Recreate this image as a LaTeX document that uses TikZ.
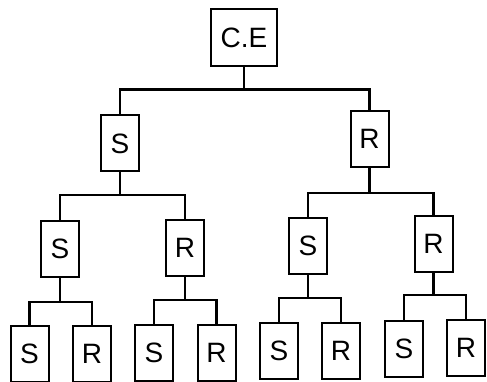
\documentclass[tikz,border=0pt]{standalone}
\usepackage{fontspec}
\setmainfont{Liberation Sans}
\begin{document}
\begin{tikzpicture}[x=1pt,y=-1pt,
  box/.style={draw, line width=2pt, rectangle, inner sep=0pt, minimum width=38pt, minimum height=56pt, font=\fontsize{28}{30}\selectfont},
  wire/.style={line width=2.2pt}]
\useasboundingbox (0,0) rectangle (487,382);
% level 0
\node[box, minimum width=66pt, minimum height=57pt] (ce) at (244,37.5) {C.E};
% level 1
\node[box] (s1) at (120,143.5) {S};
\node[box] (r1) at (369.5,139) {R};
% level 2
\node[box] (s11) at (60,249) {S};
\node[box] (r12) at (185,248) {R};
\node[box] (s21) at (308,245.5) {S};
\node[box] (r22) at (433.5,243.5) {R};
% level 3
\node[box] (s111) at (29.5,354) {S};
\node[box] (r112) at (92,353.5) {R};
\node[box] (s121) at (154,353) {S};
\node[box] (r122) at (216.5,352.5) {R};
\node[box] (s211) at (279,350.5) {S};
\node[box] (r212) at (341,350.5) {R};
\node[box] (s221) at (404,349) {S};
\node[box] (r222) at (466,348) {R};
% bar levels
\coordinate (b0) at (0,89.5);
\coordinate (b1) at (0,195);
\coordinate (b2) at (0,193);
\coordinate (b11) at (0,302);
\coordinate (b12) at (0,300);
\coordinate (b21) at (0,298);
\coordinate (b22) at (0,295);
% connectors
\draw[wire] (ce.south) -- (ce.south |- b0);
\draw[wire] (s1.north) |- (r1.north |- b0) -- (r1.north);
\draw[wire] (s1.south) -- (s1.south |- b1);
\draw[wire] (s11.north) |- (r12.north |- b1) -- (r12.north);
\draw[wire] (r1.south) -- (r1.south |- b2);
\draw[wire] (s21.north) |- (r22.north |- b2) -- (r22.north);
\draw[wire] (s11.south) -- (s11.south |- b11);
\draw[wire] (s111.north) |- (r112.north |- b11) -- (r112.north);
\draw[wire] (r12.south) -- (r12.south |- b12);
\draw[wire] (s121.north) |- (r122.north |- b12) -- (r122.north);
\draw[wire] (s21.south) -- (s21.south |- b21);
\draw[wire] (s211.north) |- (r212.north |- b21) -- (r212.north);
\draw[wire] (r22.south) -- (r22.south |- b22);
\draw[wire] (s221.north) |- (r222.north |- b22) -- (r222.north);
\end{tikzpicture}
\end{document}
